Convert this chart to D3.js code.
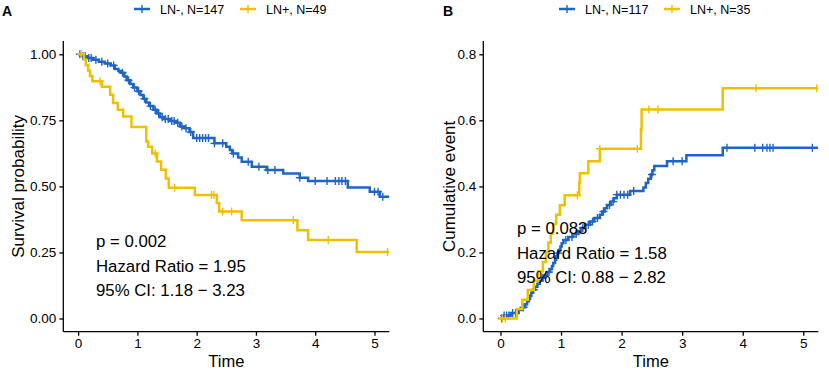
<html>
<head>
<script src="https://cdn.jsdelivr.net/npm/d3@7"></script>
<style>
  body { margin: 0; background: #fff; }
  text { font-family: "Liberation Sans", Arial, sans-serif; fill: #000; }
</style>
</head>
<body>
<script>
// ---- data ----
var timeTicks = [0, 1, 2, 3, 4, 5];
var survTicks = [0, 0.25, 0.5, 0.75, 1];
var survTickLabels = ["0.00", "0.25", "0.50", "0.75", "1.00"];
var cumTicks = [0, 0.2, 0.4, 0.6, 0.8];
var cumTickLabels = ["0.0", "0.2", "0.4", "0.6", "0.8"];

var groups = ["LN-", "LN+"];
var colors = ["#1E66C6", "#EFC000"];

// panel A: survival probability (time, value)
var aNegSteps = [[0,1],[0.08,0.993],[0.15,0.986],[0.25,0.979],[0.35,0.972],[0.45,0.965],[0.55,0.958],
  [0.62,0.944],[0.68,0.937],[0.72,0.93],[0.78,0.916],[0.82,0.902],[0.88,0.888],[0.93,0.874],[1.0,0.86],
  [1.05,0.846],[1.1,0.832],[1.15,0.818],[1.2,0.804],[1.27,0.79],[1.33,0.776],[1.38,0.762],[1.45,0.755],
  [1.55,0.748],[1.65,0.741],[1.72,0.727],[1.8,0.72],[1.88,0.706],[1.94,0.683],[2.3,0.663],[2.5,0.65],
  [2.56,0.638],[2.6,0.625],[2.7,0.609],[2.76,0.593],[2.93,0.574],[3.18,0.562],[3.46,0.549],[3.74,0.533],
  [3.88,0.52],[4.55,0.496],[4.92,0.48],[5.09,0.461]];
var aNegCensor = [0.03,0.08,0.12,0.18,0.22,0.3,0.4,0.5,0.6,0.75,0.85,0.95,1.02,1.12,1.22,1.3,1.36,1.42,
  1.47,1.52,1.58,1.62,1.68,1.75,1.82,1.9,2.0,2.05,2.1,2.15,2.2,2.3,2.44,2.62,2.87,3.05,3.2,3.32,3.74,
  4.0,4.2,4.34,4.4,4.45,4.51,5.0,5.06,5.14];
var aPosSteps = [[0,1],[0.1,0.98],[0.13,0.959],[0.17,0.939],[0.2,0.918],[0.24,0.898],[0.4,0.877],
  [0.54,0.847],[0.59,0.816],[0.67,0.79],[0.76,0.765],[0.9,0.725],[1.15,0.67],[1.18,0.65],[1.25,0.625],
  [1.33,0.594],[1.4,0.563],[1.48,0.53],[1.53,0.495],[1.97,0.467],[2.34,0.437],[2.38,0.405],[2.76,0.372],
  [3.7,0.334],[3.88,0.297],[4.7,0.252]];
var aPosCensor = [0.05,0.37,1.3,1.63,2.25,2.29,2.44,2.59,3.63,4.22,5.22];

// panel B: cumulative event
var bNegSteps = [[0,0],[0.05,0.009],[0.17,0.017],[0.3,0.026],[0.36,0.034],[0.41,0.043],[0.44,0.052],
  [0.47,0.06],[0.49,0.069],[0.51,0.078],[0.53,0.087],[0.57,0.096],[0.61,0.105],[0.65,0.114],[0.69,0.123],
  [0.73,0.132],[0.77,0.141],[0.82,0.15],[0.85,0.159],[0.87,0.168],[0.9,0.178],[0.92,0.188],[0.94,0.198],
  [0.97,0.208],[0.99,0.218],[1.01,0.228],[1.04,0.238],[1.12,0.247],[1.2,0.256],[1.28,0.265],[1.33,0.274],
  [1.4,0.284],[1.48,0.294],[1.55,0.304],[1.64,0.314],[1.68,0.324],[1.72,0.334],[1.76,0.344],[1.82,0.354],
  [1.87,0.364],[1.92,0.375],[2.14,0.386],[2.36,0.397],[2.4,0.41],[2.44,0.423],[2.48,0.436],[2.51,0.449],
  [2.54,0.462],[2.75,0.476],[3.07,0.494],[3.67,0.517]];
var bNegCensor = [0.02,0.06,0.1,0.14,0.2,0.25,0.38,0.55,0.7,0.8,0.95,1.08,1.18,1.25,1.36,1.45,1.52,1.6,
  1.7,1.8,1.86,1.92,1.98,2.04,2.1,2.2,2.5,2.85,3.0,3.74,4.2,4.33,4.4,4.45,4.5,5.15];
var bPosSteps = [[0,0],[0.27,0.029],[0.36,0.057],[0.45,0.086],[0.55,0.114],[0.62,0.143],[0.7,0.171],
  [0.75,0.2],[0.79,0.229],[0.83,0.257],[0.87,0.286],[0.92,0.314],[0.98,0.343],[1.06,0.373],[1.3,0.41],
  [1.31,0.44],[1.45,0.476],[1.64,0.514],[2.32,0.573],[2.33,0.633],[3.67,0.697]];
var bPosCensor = [0.03,0.08,1.27,1.64,2.26,2.45,2.6,4.22,5.22];

var panels = [
  { tag: "A", ylab: "Survival probability", ticks: survTicks, tickLabels: survTickLabels,
    xDomain: [-0.25, 5.25], yDomain: [-0.05, 1.05], left: 63.3, right: 389.3,
    legend: ["LN-, N=147", "LN+, N=49"], legendX: [134, 240],
    stats: ["p = 0.002", "Hazard Ratio = 1.95", "95% CI: 1.18 \u2212 3.23"], statX: 96, statY: 247,
    series: [[aNegSteps, aNegCensor], [aPosSteps, aPosCensor]] },
  { tag: "B", ylab: "Cumulative event", ticks: cumTicks, tickLabels: cumTickLabels,
    xDomain: [-0.284, 5.248], yDomain: [-0.04, 0.84], left: 483.3, right: 818.3,
    legend: ["LN-, N=117", "LN+, N=35"], legendX: [559, 664],
    stats: ["p = 0.083", "Hazard Ratio = 1.58", "95% CI: 0.88 \u2212 2.82"], statX: 517, statY: 234,
    series: [[bNegSteps, bNegCensor], [bPosSteps, bPosCensor]] }
];

var W = 829, H = 371, yTop = 41.1, yBottom = 331.7;
var svg = d3.select("body").append("svg").attr("width", W).attr("height", H);
var plus = "M-4,0H4M0,-4V4";

function stepAt(steps, t) {
  var v = steps[0][1];
  steps.forEach(function(s){ if (s[0] <= t) v = s[1]; });
  return v;
}

panels.forEach(function(p, pi) {
  var x = d3.scaleLinear().domain(p.xDomain).range([p.left, p.right]);
  var y = d3.scaleLinear().domain(p.yDomain).range([yBottom, yTop]);
  var g = svg.append("g");

  g.append("clipPath").attr("id", "clip" + pi).append("rect")
    .attr("x", p.left).attr("y", yTop - 6).attr("width", p.right - p.left).attr("height", yBottom - yTop + 6);

  var line = d3.line().x(function(d){ return x(d[0]); }).y(function(d){ return y(d[1]); }).curve(d3.curveStepAfter);

  p.series.forEach(function(s, si) {
    var steps = s[0].concat([[p.xDomain[1], s[0][s[0].length - 1][1]]]);
    var sg = g.append("g").attr("clip-path", "url(#clip" + pi + ")");
    sg.append("path").attr("d", line(steps)).attr("fill", "none")
      .attr("stroke", colors[si]).attr("stroke-width", 2.5);
    sg.selectAll(".c").data(s[1]).enter().append("path")
      .attr("d", plus)
      .attr("transform", function(t){ return "translate(" + x(t) + "," + y(stepAt(s[0], t)) + ")"; })
      .attr("stroke", colors[si]).attr("stroke-width", 1.4).attr("fill", "none");
  });

  // axes
  var xAxis = d3.axisBottom(x).tickValues(timeTicks).tickSize(4).tickSizeOuter(0).tickPadding(3)
    .tickFormat(d3.format("d"));
  var yAxis = d3.axisLeft(y).tickValues(p.ticks).tickSize(4).tickSizeOuter(0).tickPadding(3)
    .tickFormat(function(d, i){ return p.tickLabels[i]; });
  var xa = g.append("g").attr("transform", "translate(0," + yBottom + ")").call(xAxis);
  var ya = g.append("g").attr("transform", "translate(" + p.left + ",0)").call(yAxis);
  xa.select(".domain").attr("d", "M" + p.left + ",0H" + p.right);
  ya.select(".domain").attr("d", "M0," + yTop + "V" + yBottom);
  [xa, ya].forEach(function(a){
    a.select(".domain").attr("stroke", "#000").attr("stroke-width", 1.3);
    a.selectAll(".tick line").attr("stroke", "#000").attr("stroke-width", 1.3);
    a.selectAll(".tick text").style("font-size", "13.5px").attr("fill", "#000")
      .style("font-family", "'Liberation Sans', Arial, sans-serif");
  });

  // titles
  g.append("text").attr("x", (p.left + p.right) / 2).attr("y", 366.5).attr("text-anchor", "middle")
    .style("font-size", "16.5px").text("Time");
  var ylx = pi === 0 ? 24 : 455;
  g.append("text").attr("transform", "translate(" + ylx + "," + ((yTop + yBottom) / 2) + ") rotate(-90)")
    .attr("text-anchor", "middle").style("font-size", "17px").text(p.ylab);
  g.append("text").attr("x", pi === 0 ? 2 : 443).attr("y", 16)
    .style("font-size", "14px").style("font-weight", "bold").text(p.tag);

  // legend
  groups.forEach(function(gr, li) {
    var lx = p.legendX[li];
    g.append("line").attr("x1", lx).attr("x2", lx + 16).attr("y1", 9).attr("y2", 9)
      .attr("stroke", colors[li]).attr("stroke-width", 2.5);
    g.append("path").attr("d", plus).attr("transform", "translate(" + (lx + 8) + ",9)")
      .attr("stroke", colors[li]).attr("stroke-width", 1.4);
    g.append("text").attr("x", lx + 26).attr("y", 13.5).style("font-size", "12.5px").text(p.legend[li]);
  });

  // stats
  p.stats.forEach(function(st, k) {
    g.append("text").attr("x", p.statX).attr("y", p.statY + k * 24.5)
      .style("font-size", "16.8px").text(st);
  });
});
</script>
</body>
</html>
